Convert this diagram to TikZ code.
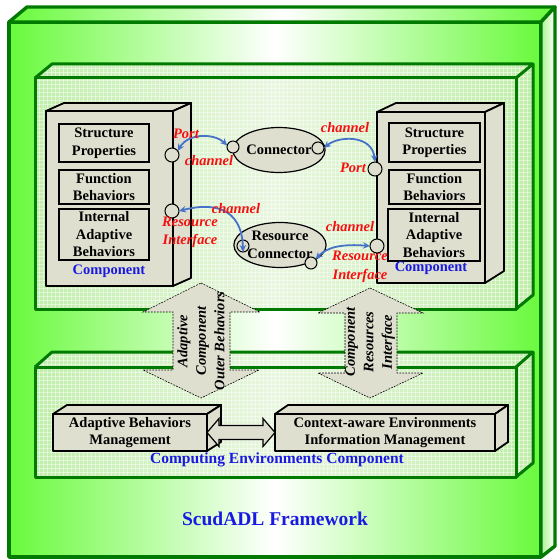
\documentclass[tikz,border=0pt]{standalone}
\usepackage{fontspec}
\setmainfont{Liberation Serif}
\usetikzlibrary{shapes.geometric,arrows.meta}

\definecolor{frameline}{RGB}{0,122,0}
\definecolor{lime}{RGB}{105,250,60}
\definecolor{limeside}{RGB}{170,245,140}
\definecolor{paleleaf}{RGB}{192,238,170}
\definecolor{paleleafmid}{RGB}{232,246,222}
\definecolor{stone}{RGB}{222,223,207}
\definecolor{titleblue}{RGB}{25,25,225}
\definecolor{labelred}{RGB}{245,15,15}
\definecolor{channelblue}{RGB}{70,115,200}

\newcommand{\boxfont}{\fontsize{14.5}{17.5}\selectfont\bfseries}
\newcommand{\tagfont}{\fontsize{14.5}{18.5}\selectfont\bfseries\itshape}

\tikzset{
  outerface/.style={draw=frameline, line width=3.4pt, line join=round,
    left color=lime, right color=lime, middle color=white},
  outerside/.style={draw=frameline, line width=3.4pt, line join=round,
    left color=limeside, right color=white},
  leaffront/.style={left color=paleleaf, right color=paleleaf, middle color=paleleafmid},
  leafside/.style={fill=paleleaf},
  gridline/.style={draw=white, line width=0.7pt, opacity=0.45},
  leafedge/.style={draw=frameline, line width=3pt, line join=round},
  solidface/.style={draw=black, line width=1.8pt, fill=stone, line join=round},
  frontface/.style={solidface, rectangle, inner sep=0pt, outer sep=0pt},
  subbox/.style={draw=black, line width=1.8pt, fill=stone, rectangle,
    inner sep=0pt, outer sep=0pt, align=center, font=\boxfont},
  port/.style={circle, draw=black, line width=1pt, fill=stone,
    minimum size=14pt, inner sep=0pt, outer sep=0pt},
  smallport/.style={port, minimum size=12pt},
  connector/.style={ellipse, draw=black, line width=1.2pt, fill=stone,
    inner sep=0pt, outer sep=0pt, align=center, font=\boxfont},
  channel/.style={draw=channelblue, line width=1.8pt,
    {Stealth[length=7pt,width=6.5pt]}-{Stealth[length=7pt,width=6.5pt]}},
  redtag/.style={text=labelred, font=\tagfont, align=center, inner sep=0pt},
  bluetag/.style={text=titleblue, font=\boxfont, inner sep=0pt},
  flowarrow/.style={draw=black, line width=0.6pt, dash pattern=on 1.8pt off 1.2pt,
    fill=stone, line join=miter},
  flowtext/.style={font=\tagfont, align=center, rotate=90, inner sep=0pt},
  linkarrow/.style={draw=black, line width=1.2pt, fill=stone, line join=miter},
}

\begin{document}
\begin{tikzpicture}[x=1pt, y=-1pt]
\useasboundingbox (0,0) rectangle (558,559);

% ---- ScudADL framework (outer block) ----
\path[outerface] (9,22) rectangle (541,557);
\path[outerface] (9,22) -- (27,7) -- (555,7) -- (541,22) -- cycle;
\path[outerside] (541,22) -- (555,7) -- (555,546) -- (541,557) -- cycle;

% ---- component layer: tinted faces with a fine light grid ----
\begin{scope}
  \clip (35,78) -- (52,64) -- (533,64) -- (533,295) -- (516,309) -- (35,309) -- cycle;
  \path[leaffront] (35,78) rectangle (516,309);
  \path[leaffront] (35,78) -- (52,64) -- (533,64) -- (516,78) -- cycle;
  \path[leafside] (516,78) -- (533,64) -- (533,295) -- (516,309) -- cycle;
  \foreach \gx in {35,39,...,535} \draw[gridline] (\gx,60) -- (\gx,312);
  \foreach \gy in {64,68,...,312} \draw[gridline] (30,\gy) -- (537,\gy);
\end{scope}
\path[leafedge] (35,78) rectangle (516,309);
\path[leafedge] (35,78) -- (52,64) -- (533,64) -- (516,78);
\path[leafedge] (533,64) -- (533,295) -- (516,309);

% ---- computing environments layer ----
\begin{scope}
  \clip (35,367) -- (52,352) -- (533,352) -- (533,463) -- (516,477) -- (35,477) -- cycle;
  \path[leaffront] (35,367) rectangle (516,477);
  \path[leaffront] (35,367) -- (52,352) -- (533,352) -- (516,367) -- cycle;
  \path[leafside] (516,367) -- (533,352) -- (533,463) -- (516,477) -- cycle;
  \foreach \gx in {35,39,...,535} \draw[gridline] (\gx,348) -- (\gx,480);
  \foreach \gy in {352,356,...,480} \draw[gridline] (30,\gy) -- (537,\gy);
\end{scope}
\path[leafedge] (35,367) rectangle (516,477);
\path[leafedge] (35,367) -- (52,352) -- (533,352) -- (516,367);
\path[leafedge] (533,352) -- (533,463) -- (516,477);

% ---- left component ----
\node[frontface, minimum width=127pt, minimum height=175pt, anchor=north west] (lcomp) at (46,111) {};
\path[solidface] (lcomp.north west) -- ++(18,-8) -- ++(127,0) -- (lcomp.north east) -- cycle;
\path[solidface] (lcomp.north east) -- ++(18,-8) -- ++(0,175) -- (lcomp.south east) -- cycle;
\node[subbox, minimum width=90pt, minimum height=38pt] (lsp) at (104,143) {Structure\\Properties};
\node[subbox, minimum width=90pt, minimum height=34pt] (lfb) at (104,187) {Function\\Behaviors};
\node[subbox, minimum width=90pt, minimum height=51pt] (liab) at (104,234.5) {Internal\\Adaptive\\Behaviors};
\node[bluetag] (lcompname) at (109,271) {Component};

% ---- right component ----
\node[frontface, minimum width=108pt, minimum height=171pt, anchor=north west] (rcomp) at (377,112) {};
\path[solidface] (rcomp.north west) -- ++(19,-9) -- ++(108,0) -- (rcomp.north east) -- cycle;
\path[solidface] (rcomp.north east) -- ++(19,-9) -- ++(0,168) -- (rcomp.south east) -- cycle;
\node[subbox, minimum width=91pt, minimum height=39pt] (rsp) at (434.5,142.5) {Structure\\Properties};
\node[subbox, minimum width=91pt, minimum height=34pt] (rfb) at (434.5,187) {Function\\Behaviors};
\node[subbox, minimum width=92pt, minimum height=52pt] (riab) at (434,235) {Internal\\Adaptive\\Behaviors};
\node[bluetag] (rcompname) at (431,268) {Component};

% ---- ports ----
\node[port] (lp1) at (172,155) {};
\node[port] (lp2) at (172,211) {};
\node[port] (rp1) at (375,169) {};
\node[port] (rp2) at (377,246) {};

% ---- connectors ----
\node[connector, minimum width=88pt, minimum height=45pt] (conn) at (279,150) {Connector};
\node[connector, minimum width=78pt, minimum height=45pt] (rconn) at (280,245) {Resource\\Connector};
\node[smallport] (cl) at (233,147) {};
\node[smallport] (cr) at (318,148) {};
\node[smallport] (rcl) at (243,246) {};
\node[smallport] (rcr) at (311,263) {};

% ---- channels ----
\draw[channel] (lp1.35) .. controls (188,133) and (214,133) .. (cl.165);
\draw[channel] (cr.east) .. controls (338,136) and (372,134) .. (rp1.north);
\draw[channel] (lp2.east) .. controls (210,203) and (242,205) .. (rcl.south);
\draw[channel] (rcr.40) .. controls (328,246) and (345,244) .. (rp2.west);

% ---- red labels ----
\node[redtag] (portA) at (186,134) {Port};
\node[redtag] (chanA) at (209,161) {channel};
\node[redtag] (chanB) at (345,128) {channel};
\node[redtag] (portB) at (353,168) {Port};
\node[redtag] (chanC) at (236,209) {channel};
\node[redtag] (resA) at (190,232.5) {Resource\\Interface};
\node[redtag] (chanD) at (350,227) {channel};
\node[redtag] (resB) at (360,267) {Resource\\Interface};

% ---- interaction arrows between the layers ----
\path[flowarrow] (201,283) -- (260,312) -- (230,312) -- (230,370) -- (259,370) -- (201,398)
  -- (143,370) -- (173,370) -- (173,312) -- (143,312) -- cycle;
\node[flowtext] (outerbeh) at (201,341) {Adaptive\\Component\\Outer Behaviors};
\path[flowarrow] (370,288) -- (423,313) -- (397,313) -- (397,373) -- (423,373) -- (370,398)
  -- (318,373) -- (345,373) -- (345,313) -- (318,313) -- cycle;
\node[flowtext] (resiface) at (370,342) {Component\\Resources\\Interface};

% ---- computing environments component ----
\node[frontface, minimum width=154pt, minimum height=37pt, font=\boxfont, align=center] (abm) at (130,432.5) {Adaptive Behaviors\\Management};
\path[solidface] (abm.north west) -- ++(14,-9) -- ++(154,0) -- (abm.north east) -- cycle;
\path[solidface] (abm.north east) -- ++(14,-9) -- ++(0,37) -- (abm.south east) -- cycle;
\node[frontface, minimum width=220pt, minimum height=37pt, font=\boxfont, align=center] (cem) at (385,432.5) {Context-aware Environments\\Information Management};
\path[solidface] (cem.north west) -- ++(13,-9) -- ++(220,0) -- (cem.north east) -- cycle;
\path[solidface] (cem.north east) -- ++(13,-9) -- ++(0,37) -- (cem.south east) -- cycle;
\path[linkarrow] (abm.east) -- ++(12,-14) -- ++(0,7) -- ++(44,0) -- ++(0,-7) -- (cem.west)
  -- ++(-12,14) -- ++(0,-7) -- ++(-44,0) -- ++(0,7) -- cycle;
\node[bluetag, font=\fontsize{15.5}{18}\selectfont\bfseries] (cename) at (277,460) {Computing Environments Component};

% ---- framework title ----
\node[bluetag, font=\fontsize{19.5}{22}\selectfont\bfseries] (title) at (275,519) {ScudADL Framework};
\end{tikzpicture}
\end{document}
